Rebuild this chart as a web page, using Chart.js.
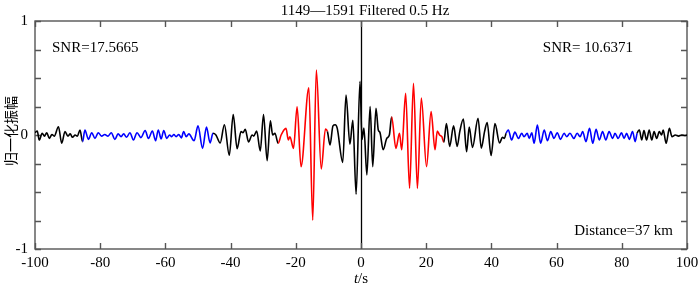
<!DOCTYPE html>
<html lang="zh">
<head>
<meta charset="UTF-8">
<title>1149—1591 Filtered 0.5 Hz</title>
<script src="https://cdn.jsdelivr.net/npm/chart.js"></script>
<style>
  html, body { margin: 0; padding: 0; background: #fff; }
  #wrap { width: 700px; height: 287px; }
</style>
</head>
<body>
<div id="wrap"><canvas id="xcorr" width="700" height="287"></canvas></div>
<script>
// lag times (s) of the peaks and troughs
const lagTimes = [
  -100.0, -99.3, -98.7, -97.8, -97.1, -96.4, -95.6, -94.8, -94.1, -92.8, -91.8, -90.8, -89.9, -89.2, -88.5, -87.7, -87.0, -86.2, -85.4,
  -84.7, -83.6, -82.6, -81.6, -80.6, -79.6, -78.6, -77.6, -76.6, -75.5, -74.5, -73.6, -72.8, -71.9, -70.9, -69.8, -68.7, -67.5, -66.2, -65.2,
  -64.0, -63.0, -62.2, -61.3, -60.5, -59.6, -58.7, -58.1, -57.4, -56.7, -55.9, -55.1, -54.4, -53.6, -52.8, -51.2, -50.0, -48.6, -47.4, -46.3, -45.4,
  -44.5, -43.2, -41.9, -40.4, -39.2, -38.0, -36.8, -36.2, -35.5, -34.5, -33.4, -32.9, -32.0, -30.9, -29.9, -28.8, -27.8, -27.1, -26.4, -25.4,
  -24.5, -23.0, -22.3, -21.8, -20.7, -19.6, -18.4, -16.0, -14.8, -13.7, -12.2, -10.9, -10.3,
  -9.5, -8.6, -7.9, -7.3, -5.6, -4.6, -3.4, -2.5, -1.5, -0.3, 0.3, 0.9, 1.8, 2.8, 3.6, 4.6, 5.3, 5.8, 6.8, 7.9, 8.7, 9.4,
  10.7, 11.8, 12.5, 13.7, 14.9, 16.1, 17.3, 18.5, 20.1, 21.5, 22.7, 23.4, 24.1, 24.8,
  25.4, 26.2, 27.2, 28.4, 29.5, 30.3, 31.4, 32.4, 33.2, 34.2, 35.9, 36.9, 37.9, 38.7, 39.9, 41.1, 42.5, 43.4, 44.0, 44.5,
  45.2, 46.2, 47.2, 48.3, 49.3, 50.0, 51.0, 51.6, 52.4, 53.1, 54.1, 55.1, 56.2, 57.2, 58.2, 59.2, 60.2, 61.2, 62.3, 63.1, 64.1,
  65.3, 66.3, 67.2, 68.0, 69.0, 70.1, 71.1, 72.1, 73.1, 74.1, 75.1, 76.1, 77.2, 77.9, 78.9, 79.9, 80.7, 81.5, 82.3, 83.3, 84.1,
  84.7, 85.4, 86.1, 86.8, 87.6, 88.4, 89.2, 89.9, 90.7, 91.5, 92.2, 92.7, 93.6, 94.6, 95.4, 96.4, 97.4, 98.4, 99.4, 100.0
];
// normalised amplitude at those times
const normAmp = [
  0.02, 0.035, -0.044, 0.015, -0.01, 0.02, -0.03, 0.005, -0.01, 0.073, -0.073, 0.03, -0.01, 0.01, -0.02, 0.0, -0.01, 0.044, -0.058,
  0.044, -0.038, 0.02, -0.03, 0.02, -0.01, 0.005, -0.01, 0.02, -0.038, 0.01, -0.015, 0.01, -0.02, 0.02, -0.044, 0.02, -0.023, 0.04, -0.03,
  0.035, -0.05, 0.044, -0.035, 0.04, -0.03, 0.0, -0.015, 0.005, -0.015, 0.005, -0.025, 0.03, -0.015, 0.01, -0.05, 0.08, -0.117, 0.07, -0.07, 0.015,
  0.0, -0.07, 0.09, -0.178, 0.18, -0.12, 0.03, 0.02, 0.05, -0.06, 0.0, -0.01, 0.035, -0.14, 0.18, -0.225, 0.125, 0.0, 0.015, -0.073,
  0.0, 0.058, -0.044, -0.015, -0.117, 0.248, -0.278, 0.415, -0.746, 0.57, -0.298, 0.053, 0.03,
  -0.088, 0.08, 0.09, 0.06, -0.24, 0.35, -0.08, 0.13, -0.52, 0.47, -0.04, 0.06, -0.35, 0.25, -0.278, 0.234, 0.044, 0.023, -0.13, -0.03, 0.0, 0.16,
  -0.117, 0.015, -0.13, 0.366, -0.468, 0.453, -0.468, 0.325, -0.278, 0.205, -0.13, 0.035, 0.0, -0.015,
  -0.064, 0.10, -0.10, 0.08, -0.10, 0.03, 0.14, -0.146, 0.07, -0.11, 0.146, -0.115, 0.03, 0.11, -0.18, 0.10, -0.07, -0.02, -0.03, 0.015,
  0.044, -0.044, 0.025, -0.03, 0.015, -0.015, 0.015, -0.03, 0.02, -0.073, 0.088, -0.073, 0.044, -0.05, 0.03, -0.03, 0.02, -0.038, 0.015, -0.015, 0.015,
  -0.03, 0.015, -0.015, 0.03, -0.058, 0.058, -0.073, 0.05, -0.044, 0.03, -0.044, 0.03, -0.03, 0.015, -0.03, 0.02, -0.03, 0.015, -0.038, 0.03, -0.058,
  0.015, 0.044, -0.044, 0.038, -0.044, 0.044, -0.044, 0.03, -0.03, 0.03, 0.0, 0.044, -0.073, 0.058, -0.015, 0.0, -0.01, 0.0, -0.005, 0.0
];

// time windows drawn in colour (s)
const signalWindows = [[-25.1, -10.2], [9.6, 25.2]];   // red
const noiseWindows = [[-85.1, -45.3], [44.6, 84.5]];   // blue

const xTickValues = [-100, -80, -60, -40, -20, 0, 20, 40, 60, 80, 100];
const yTickValues = [-1, -0.75, -0.5, -0.25, 0, 0.25, 0.5, 0.75, 1];

const titleText = '1149\u20141591 Filtered 0.5 Hz';
const yTitle = '归一化振幅';
const snrLeft = 'SNR=17.5665';
const snrRight = 'SNR= 10.6371';
const distText = 'Distance=37 km';

const serif = '"Liberation Serif", "Times New Roman", serif';

function colourAt(t) {
  for (const w of signalWindows) if (t >= w[0] && t <= w[1]) return '#ff0000';
  for (const w of noiseWindows) if (t >= w[0] && t <= w[1]) return '#0000ff';
  return '#000000';
}

const frameAndText = {
  id: 'frameAndText',
  beforeDatasetsDraw(chart) {
    const { ctx, chartArea: a, scales: { x, y } } = chart;
    ctx.save();
    // zero lag line
    const x0 = Math.round(x.getPixelForValue(0)) + 0.5;
    ctx.strokeStyle = '#000';
    ctx.lineWidth = 1.3;
    ctx.beginPath();
    ctx.moveTo(x0, a.top);
    ctx.lineTo(x0, a.bottom);
    ctx.stroke();
    // box + inward ticks
    ctx.strokeStyle = '#555';
    ctx.lineWidth = 1.4;
    ctx.beginPath();
    xTickValues.forEach(v => {
      const px = Math.round(x.getPixelForValue(v)) + 0.5;
      ctx.moveTo(px, a.bottom); ctx.lineTo(px, a.bottom - 6);
      ctx.moveTo(px, a.top); ctx.lineTo(px, a.top + 6);
    });
    yTickValues.forEach(v => {
      const py = Math.round(y.getPixelForValue(v)) + 0.5;
      ctx.moveTo(a.left, py); ctx.lineTo(a.left + 6, py);
      ctx.moveTo(a.right, py); ctx.lineTo(a.right - 6, py);
    });
    ctx.stroke();
    ctx.strokeRect(a.left, a.top, a.right - a.left, a.bottom - a.top);
    ctx.restore();
  },
  afterDraw(chart) {
    const { ctx, chartArea: a } = chart;
    const cx = (a.left + a.right) / 2;
    ctx.save();
    ctx.fillStyle = '#000';
    ctx.textBaseline = 'middle';

    ctx.font = '15px ' + serif;
    ctx.textAlign = 'center';
    ctx.fillText(titleText, cx + 4, 11);

    ctx.textAlign = 'left';
    ctx.fillText(snrLeft, 52, 48);
    ctx.textAlign = 'right';
    ctx.fillText(snrRight, 633, 48);
    ctx.fillText(distText, 673, 231);

    // x title: italic t + "/s"
    ctx.textAlign = 'left';
    ctx.font = 'italic 15px ' + serif;
    const wt = ctx.measureText('t').width;
    ctx.font = '15px ' + serif;
    const ws = ctx.measureText('/s').width;
    const sx = cx - (wt + ws) / 2;
    ctx.font = 'italic 15px ' + serif;
    ctx.fillText('t', sx, 279);
    ctx.font = '15px ' + serif;
    ctx.fillText('/s', sx + wt, 279);

    // y title
    ctx.translate(11, 131);
    ctx.rotate(-Math.PI / 2);
    ctx.textAlign = 'center';
    ctx.font = '14px "Noto Sans CJK SC", sans-serif';
    ctx.fillText(yTitle, 0, 0);
    ctx.restore();
  }
};

new Chart(document.getElementById('xcorr'), {
  type: 'line',
  data: {
    datasets: [{
      data: lagTimes.map((t, i) => ({ x: t, y: normAmp[i] })),
      borderColor: '#000',
      borderWidth: 1.6,
      pointRadius: 0,
      fill: false,
      cubicInterpolationMode: 'monotone',
      segment: {
        borderColor: c => colourAt((c.p0.parsed.x + c.p1.parsed.x) / 2)
      }
    }]
  },
  options: {
    responsive: false,
    animation: false,
    layout: { padding: { top: 21, right: 13, left: 0, bottom: 0 } },
    plugins: { legend: { display: false }, tooltip: { enabled: false }, title: { display: false } },
    scales: {
      x: {
        type: 'linear',
        min: -100,
        max: 100,
        grid: { display: false, drawTicks: false },
        border: { display: false },
        ticks: { stepSize: 20, padding: 5, maxRotation: 0, autoSkip: false, color: '#000', font: { family: serif, size: 15 } },
        afterFit: s => { s.height = 38; s.paddingLeft = 0; s.paddingRight = 0; }
      },
      y: {
        min: -1,
        max: 1,
        grid: { display: false, drawTicks: false },
        border: { display: false },
        ticks: { stepSize: 1, padding: 7, color: '#000', font: { family: serif, size: 15 } },
        afterFit: s => { s.width = 35; s.paddingTop = 0; s.paddingBottom = 0; }
      }
    }
  },
  plugins: [frameAndText]
});
</script>
</body>
</html>
